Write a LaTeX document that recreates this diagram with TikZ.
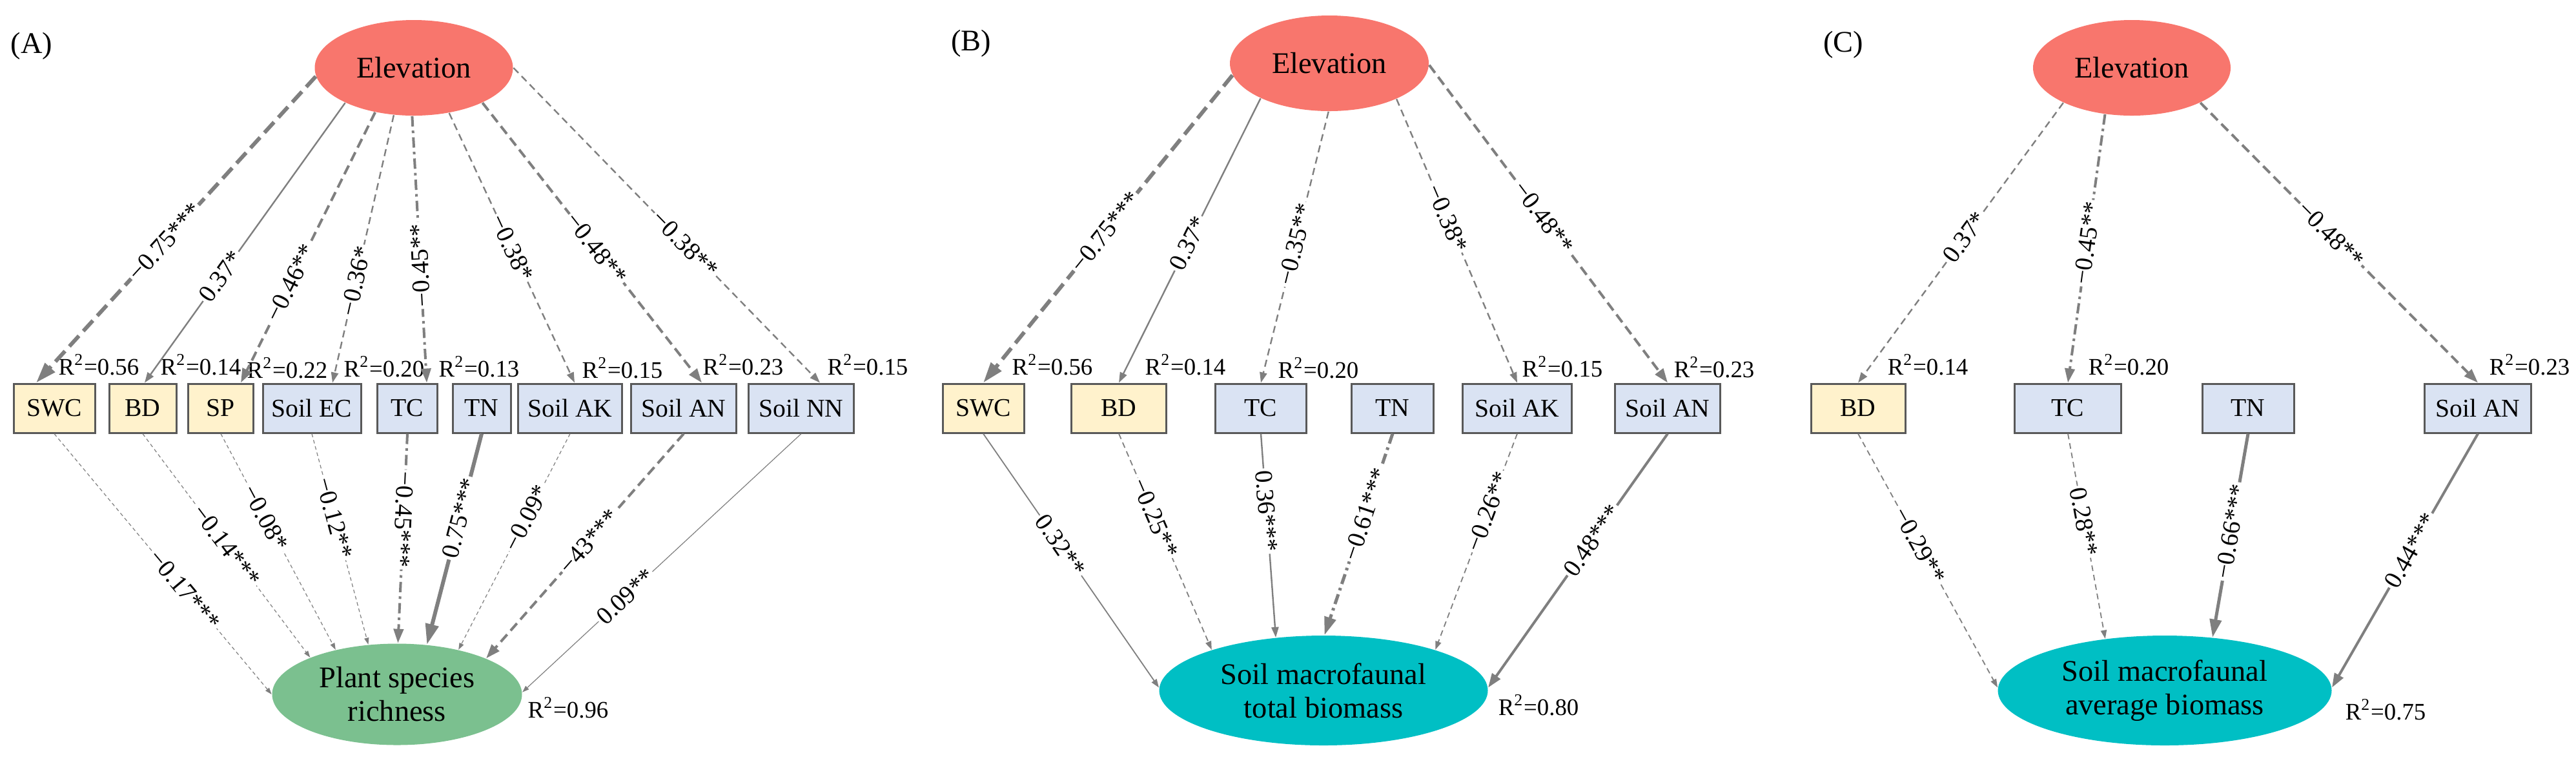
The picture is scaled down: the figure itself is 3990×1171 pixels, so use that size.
\documentclass[tikz,border=0pt]{standalone}
\usepackage{fontspec}
\setmainfont{Liberation Serif}
\usetikzlibrary{shapes.geometric,arrows.meta}
\definecolor{elevred}{HTML}{F8766D}
\definecolor{plantgreen}{HTML}{7BC08F}
\definecolor{tealc}{HTML}{00BFC4}
\definecolor{boxyel}{HTML}{FFF2CC}
\definecolor{boxblu}{HTML}{DAE3F3}
\definecolor{boxline}{HTML}{595959}
\definecolor{edgec}{HTML}{7F7F7F}
\tikzset{
  bigf/.style={font=\fontsize{11.6}{13}\selectfont},
  ell/.style={ellipse, inner sep=0pt, align=center, bigf},
  bx/.style={draw=boxline, line width=0.75pt, minimum height=19pt, inner sep=0pt, font=\fontsize{9.9}{11}\selectfont},
  bxy/.style={bx, fill=boxyel},
  bxb/.style={bx, fill=boxblu},
  rsq/.style={inner sep=0pt, font=\fontsize{9.2}{10}\selectfont},
  plab/.style={fill=white, inner sep=0.8pt, font=\fontsize{9.7}{10}\selectfont},
  plabs/.style={plab, sloped},
  ed/.style={draw=edgec},
  w1/.style={ed, line width=0.3pt, -{Triangle[length=2.6pt,width=1.8pt]}},
  w2/.style={ed, line width=0.45pt, -{Triangle[length=3.3pt,width=2.3pt]}},
  w3/.style={ed, line width=0.6pt, -{Triangle[length=4pt,width=2.8pt]}},
  w4/.style={ed, line width=1pt, -{Triangle[length=5.5pt,width=3.8pt]}},
  w5/.style={ed, line width=1.25pt, -{Triangle[length=7pt,width=4.5pt]}},
  w6/.style={ed, line width=1.5pt, -{Triangle[length=8pt,width=5pt]}},
  ds1/.style={dash pattern=on 1.4pt off 1.1pt},
  ds2/.style={dash pattern=on 2.2pt off 1.5pt},
  ds3/.style={dash pattern=on 2.75pt off 1.75pt},
  ds4/.style={dash pattern=on 3.75pt off 2pt},
  ds6/.style={dash pattern=on 5.5pt off 2.5pt},
  dd4/.style={dash pattern=on 4pt off 1.6pt on 1pt off 1.6pt},
}
\begin{document}
\begin{tikzpicture}[x=0.25pt,y=-0.25pt]
\useasboundingbox (0,0) rectangle (3990,1171);
% panel letters
\node[bigf] (labA) at (49,71) {(A)};
\node[bigf] (labB) at (1504,67) {(B)};
\node[bigf] (labC) at (2855,69) {(C)};

% ---------------- Panel A ----------------
\node[ell, fill=elevred, minimum width=76.75pt, minimum height=37pt] (elevA) at (641,105) {Elevation};
\node[ell, fill=plantgreen, minimum width=96.75pt, minimum height=39.25pt] (plantA) at (615,1075) {Plant species\\richness};
\node[bxy, minimum width=31.5pt] (swcA) at (84,632) {SWC};
\node[bxy, minimum width=26pt] (bdA) at (221,632) {BD};
\node[bxy, minimum width=25.25pt] (spA) at (342,632) {SP};
\node[bxb, minimum width=38pt] (ecA) at (483,632) {Soil EC};
\node[bxb, minimum width=23.25pt] (tcA) at (631,632) {TC};
\node[bxb, minimum width=22.5pt] (tnA) at (746,632) {TN};
\node[bxb, minimum width=40.25pt] (akA) at (883,632) {Soil AK};
\node[bxb, minimum width=40.75pt] (anA) at (1059,632) {Soil AN};
\node[bxb, minimum width=40.75pt] (nnA) at (1241,632) {Soil NN};

\node[rsq] (rA1) at (153,565) {R\textsuperscript{2}=0.56};
\node[rsq] (rA2) at (311,565) {R\textsuperscript{2}=0.14};
\node[rsq] (rA3) at (445,570) {R\textsuperscript{2}=0.22};
\node[rsq] (rA4) at (595,568) {R\textsuperscript{2}=0.20};
\node[rsq] (rA5) at (742,568) {R\textsuperscript{2}=0.13};
\node[rsq] (rA6) at (964,570) {R\textsuperscript{2}=0.15};
\node[rsq] (rA7) at (1151,565) {R\textsuperscript{2}=0.23};
\node[rsq] (rA8) at (1344,565) {R\textsuperscript{2}=0.15};
\node[rsq] (rA9) at (880,1096) {R\textsuperscript{2}=0.96};

\draw[w6,ds6] (elevA.185) -- ([xshift=-7pt]swcA.north) node[plabs,pos=.54] (eA1) {−0.75***};
\draw[w3] (elevA.207) -- ([xshift=0.75pt]bdA.north) node[plabs,pos=.62] (eA2) {0.37*};
\draw[w4,ds4] (elevA.229) -- ([xshift=7.75pt]spA.north) node[plabs,pos=.63] (eA3) {−0.46**};
\draw[w3,ds3] (elevA.247) -- ([xshift=8pt]ecA.north) node[plabs,pos=.62] (eA4) {−0.36*};
\draw[w4,dd4] (elevA.268) -- ([xshift=7.5pt]tcA.north) node[plab,pos=.56,rotate=93.1] (eA5) {−0.45**};
\draw[w3,ds3] (elevA.308) -- ([xshift=1.75pt]akA.north) node[plabs,pos=.50] (eA6) {−0.38*};
\draw[w4,ds4] (elevA.333) -- ([xshift=7pt]anA.north) node[plabs,pos=.52] (eA7) {−0.48**};
\draw[w3,ds3] (elevA.0) -- ([xshift=7.25pt]nnA.north) node[plabs,pos=.56] (eA8) {−0.38**};

\draw[w1,ds1] (swcA.south) -- (plantA.180) node[plabs,pos=.60] (eA9) {−0.17***};
\draw[w1,ds1] (bdA.south) -- (plantA.157) node[plabs,pos=.50] (eA10) {−0.14***};
\draw[w1,ds1] (spA.south) -- (plantA.144) node[plabs,pos=.39] (eA11) {−0.08*};
\draw[w1,ds1] (ecA.south) -- (plantA.120) node[plabs,pos=.40] (eA12) {−0.12**};
\draw[w4,dd4] (tcA.south) -- (plantA.89) node[plab,pos=.41,rotate=-92.6] (eA13) {−0.45***};
\draw[w6] (tnA.south) -- (plantA.59) node[plabs,pos=.40] (eA14) {0.75***};
\draw[w1,ds1] (akA.south) -- (plantA.36) node[plabs,pos=.39] (eA15) {−0.09*};
\draw[w4,ds4] (anA.south) -- (plantA.22) node[plabs,pos=.48] (eA16) {−43***};
\draw[w1] (nnA.south) -- (plantA.1) node[plabs,pos=.63] (eA17) {0.09**};

% ---------------- Panel B ----------------
\node[ell, fill=elevred, minimum width=77pt, minimum height=37pt] (elevB) at (2059,98) {Elevation};
\node[ell, fill=tealc, minimum width=127.25pt, minimum height=42.5pt] (bioB) at (2050,1069) {Soil macrofaunal\\total biomass};
\node[bxy, minimum width=31.5pt] (swcB) at (1523,632) {SWC};
\node[bxy, minimum width=36.75pt] (bdB) at (1733,632) {BD};
\node[bxb, minimum width=35.25pt] (tcB) at (1953,632) {TC};
\node[bxb, minimum width=31.75pt] (tnB) at (2157,632) {TN};
\node[bxb, minimum width=42.25pt] (akB) at (2350,632) {Soil AK};
\node[bxb, minimum width=40.75pt] (anB) at (2583,632) {Soil AN};

\node[rsq] (rB1) at (1630,565) {R\textsuperscript{2}=0.56};
\node[rsq] (rB2) at (1836,565) {R\textsuperscript{2}=0.14};
\node[rsq] (rB3) at (2042,570) {R\textsuperscript{2}=0.20};
\node[rsq] (rB4) at (2420,568) {R\textsuperscript{2}=0.15};
\node[rsq] (rB5) at (2655,569) {R\textsuperscript{2}=0.23};
\node[rsq] (rB6) at (2383,1092) {R\textsuperscript{2}=0.80};

\draw[w6,ds6] (elevB.187) -- (swcB.north) node[plabs,pos=.51] (eB1) {−0.75***};
\draw[w3] (elevB.207) -- (bdB.north) node[plabs,pos=.51] (eB2) {0.37*};
\draw[w3,ds3] (elevB.269) -- (tcB.north) node[plabs,pos=.49] (eB3) {−0.35**};
\draw[w3,ds3] (elevB.332) -- (akB.north) node[plabs,pos=.42] (eB4) {−0.38*};
\draw[w4,ds4] (elevB.359) -- (anB.north) node[plabs,pos=.48] (eB5) {−0.48**};

\draw[w2] (swcB.south) -- (bioB.179) node[plabs,pos=.44] (eB6) {0.32**};
\draw[w2,ds2] (bdB.south) -- (bioB.160) node[plabs,pos=.39] (eB7) {−0.25**};
\draw[w3] (tcB.south) -- (bioB.132) node[plabs,pos=.38] (eB8) {0.36***};
\draw[w5,dd4] (tnB.south) -- (bioB.89) node[plabs,pos=.40] (eB9) {−0.61***};
\draw[w2,ds2] (akB.south) -- (bioB.20) node[plabs,pos=.36] (eB10) {−0.26**};
\draw[w4] (anB.south) -- (bioB.1) node[plabs,pos=.42] (eB11) {0.48***};

% ---------------- Panel C ----------------
\node[ell, fill=elevred, minimum width=76.5pt, minimum height=37pt] (elevC) at (3302,105) {Elevation};
\node[ell, fill=tealc, minimum width=129.25pt, minimum height=42.5pt] (bioC) at (3353,1069) {Soil macrofaunal\\average biomass};
\node[bxy, minimum width=36.5pt] (bdC) at (2878,632) {BD};
\node[bxb, minimum width=41.25pt] (tcC) at (3203,632) {TC};
\node[bxb, minimum width=35.5pt] (tnC) at (3482,632) {TN};
\node[bxb, minimum width=41.25pt] (anC) at (3838,632) {Soil AN};

\node[rsq] (rC1) at (2986,565) {R\textsuperscript{2}=0.14};
\node[rsq] (rC2) at (3297,565) {R\textsuperscript{2}=0.20};
\node[rsq] (rC3) at (3918,565) {R\textsuperscript{2}=0.23};
\node[rsq] (rC4) at (3695,1099) {R\textsuperscript{2}=0.75};

\draw[w3,ds3] (elevC.207) -- (bdC.north) node[plabs,pos=.48] (eC1) {0.37*};
\draw[w4,dd4] (elevC.240) -- (tcC.north) node[plabs,pos=.48] (eC2) {−0.45**};
\draw[w4,ds4] (elevC.333) -- (anC.north) node[plabs,pos=.47] (eC3) {−0.48**};

\draw[w2,ds2] (bdC.south) -- (bioC.179) node[plabs,pos=.44] (eC4) {−0.29**};
\draw[w2,ds2] (tcC.south) -- (bioC.139) node[plabs,pos=.43] (eC5) {0.28**};
\draw[w5] (tnC.south) -- (bioC.48) node[plabs,pos=.48] (eC6) {−0.66***};
\draw[w4] (anC.south) -- (bioC.1) node[plabs,pos=.46] (eC7) {0.44***};
\end{tikzpicture}
\end{document}
